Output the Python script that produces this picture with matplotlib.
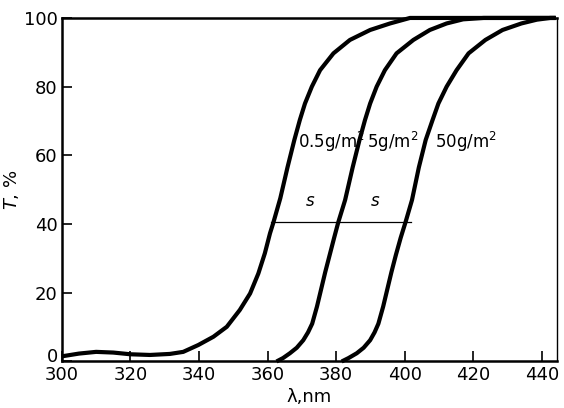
import matplotlib.pyplot as plt
import matplotlib.transforms as mtransforms

# transmission curves (wavelength nm, T %)
wl_05 = [300, 305, 310, 315, 320, 325.7, 331.5, 335.4, 339.8, 344.2, 348.1, 351.9,
         354.9, 357.3, 359.2, 360.7, 361.7, 363.7, 365.8, 367.8, 369.4, 370.9,
         372.9, 375.3, 379.2, 384, 389.9, 395.7, 401.5, 444]
t_05 = [1.5, 2.3, 2.8, 2.6, 2.1, 1.9, 2.2, 2.8, 4.8, 7.2, 10.1, 15,
        19.8, 25.6, 31.5, 37.3, 40.5, 47.5, 56.5, 64.5, 70.3, 75.1,
        80, 84.8, 89.7, 93.6, 96.5, 98.4, 100, 100]

wl_5 = [362.6, 364.5, 366.5, 368.5, 370.4, 371.8, 373, 374.4, 375.6, 376.8, 378.1,
        379.4, 380.6, 382.6, 384.8, 386.8, 388.4, 389.9, 391.8, 394.2, 397.6,
        402.5, 407.3, 412.2, 417, 423, 444]
t_5 = [0, 1, 2.4, 4, 6.2, 8.5, 11, 16, 21, 26, 31,
       36, 40.5, 47, 56.5, 64.5, 70.3, 75.1, 80, 84.8, 89.7,
       93.6, 96.5, 98.4, 99.6, 100, 100]

wl_50 = [381.6, 383.6, 386, 388, 389.9, 391.2, 392.3, 393.7, 394.9, 396.1, 397.4,
         398.8, 400.2, 402.1, 404.1, 406.1, 408.1, 409.8, 412.2, 415.1, 418.6,
         423.5, 428.5, 434, 438.5, 442.4, 444]
t_50 = [0, 1, 2.4, 4, 6.2, 8.5, 11, 16, 21, 26, 31,
        36, 40.5, 47, 56.5, 64.5, 70.3, 75.1, 80, 84.8, 89.7,
        93.6, 96.5, 98.4, 99.5, 100, 100]

curve_labels = ["0.5g/m$^2$", "5g/m$^2$", "50g/m$^2$"]
label_x = [369, 388.9, 408.8]
label_y = 64

# shift bar at 40 %
shift_x = [360.9, 401.8]
shift_y = [40.5, 40.5]
s_x = [372.4, 391.3]
s_y = 44

x_ticks = [300, 320, 340, 360, 380, 400, 420, 440]
y_ticks = [0, 20, 40, 60, 80, 100]

fig = plt.figure(figsize=(5.64, 4.08), dpi=100)
ax = fig.add_axes([0.1096, 0.114, 0.8775, 0.842])

for wl, t in [(wl_05, t_05), (wl_5, t_5), (wl_50, t_50)]:
    ax.plot(wl, t, color="black", lw=3, solid_joinstyle="round",
            solid_capstyle="butt", clip_on=False)

ax.plot(shift_x, shift_y, color="black", lw=0.9)
for x in s_x:
    ax.text(x, s_y, "s", fontsize=12, style="italic", ha="center", va="bottom")

for lab, x in zip(curve_labels, label_x):
    ax.text(x, label_y, lab, fontsize=12, ha="left", va="center")

ax.set_xlim(300, 444.3)
ax.set_ylim(0, 100)
ax.set_xticks(x_ticks)
ax.set_yticks(y_ticks)
# the "0" sits a little above the corner, drawn on its own
ax.set_yticklabels([""] + [str(v) for v in y_ticks[1:]])
trans = mtransforms.blended_transform_factory(ax.transAxes, ax.transData)
ax.text(-0.008, 1.2, str(y_ticks[0]), transform=trans, fontsize=13,
        ha="right", va="center")

ax.tick_params(direction="in", length=7, width=1.2, labelsize=13, pad=3,
               top=False, right=False)
for side in ["left", "bottom", "top"]:
    ax.spines[side].set_linewidth(1.8)
ax.spines["right"].set_linewidth(1.0)

ax.set_xlabel("λ,nm", fontsize=13, labelpad=3)
ax.set_ylabel("$T$, %", fontsize=13, labelpad=2)

fig.savefig("out.png", dpi=100)
